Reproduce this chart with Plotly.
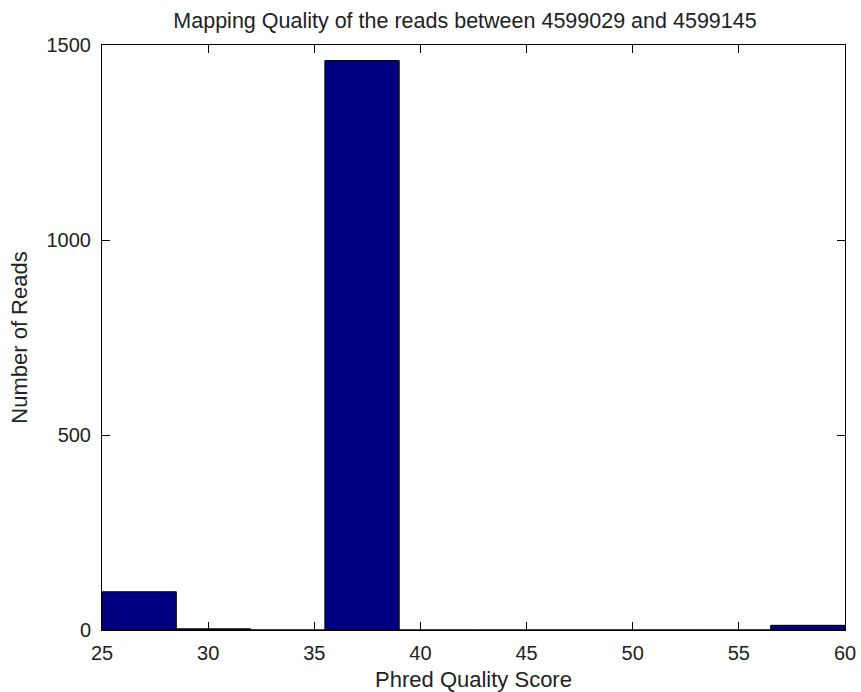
import plotly.graph_objects as go

bin_edges = [25.0, 28.5, 32.0, 35.5, 39.0, 42.5, 46.0, 49.5, 53.0, 56.5, 60.0]
counts = [98, 3, 0, 1460, 0, 0, 0, 0, 0, 12]
x_ticks = [25, 30, 35, 40, 45, 50, 55, 60]
y_ticks = [0, 500, 1000, 1500]

centers = [(bin_edges[i] + bin_edges[i + 1]) / 2 for i in range(len(counts))]
widths = [bin_edges[i + 1] - bin_edges[i] for i in range(len(counts))]

fig = go.Figure(go.Bar(
    x=centers, y=counts, width=widths,
    marker=dict(color="#000080", line=dict(color="black", width=1)),
))

FAM = "Liberation Sans, Arial, sans-serif"
tick_font = dict(family=FAM, size=20, color="#222222")
label_font = dict(family=FAM, size=22, color="#222222")
title_font = dict(family=FAM, size=21.5, color="#222222")
axis_common = dict(
    showline=True, linecolor="black", linewidth=1, mirror="ticks",
    ticks="inside", ticklen=8, tickcolor="black", showgrid=False, zeroline=False,
    tickfont=tick_font, automargin=False,
)
W, H = 861, 692
fig.update_layout(
    width=W, height=H,
    margin=dict(l=102, r=16, t=45, b=62, autoexpand=False),
    paper_bgcolor="white", plot_bgcolor="white",
    font=label_font,
    showlegend=False,
    title=dict(text="Mapping Quality of the reads between 4599029 and 4599145",
               x=465 / W, xanchor="center", y=1 - 20 / H, yanchor="middle",
               xref="container", yref="container", font=title_font, automargin=False),
    xaxis=dict(range=[25, 60], tickvals=x_ticks, ticklabelstandoff=5,
               title=dict(text="Phred Quality Score", standoff=9, font=label_font), **axis_common),
    yaxis=dict(range=[0, 1500], tickvals=y_ticks, ticklabelstandoff=6,
               title=dict(text="Number of Reads", standoff=12, font=label_font), **axis_common),
)
fig.write_html(
    "out.html",
    config={"displayModeBar": False},
    post_script="document.body.style.margin='0';document.body.style.overflow='hidden';",
)
